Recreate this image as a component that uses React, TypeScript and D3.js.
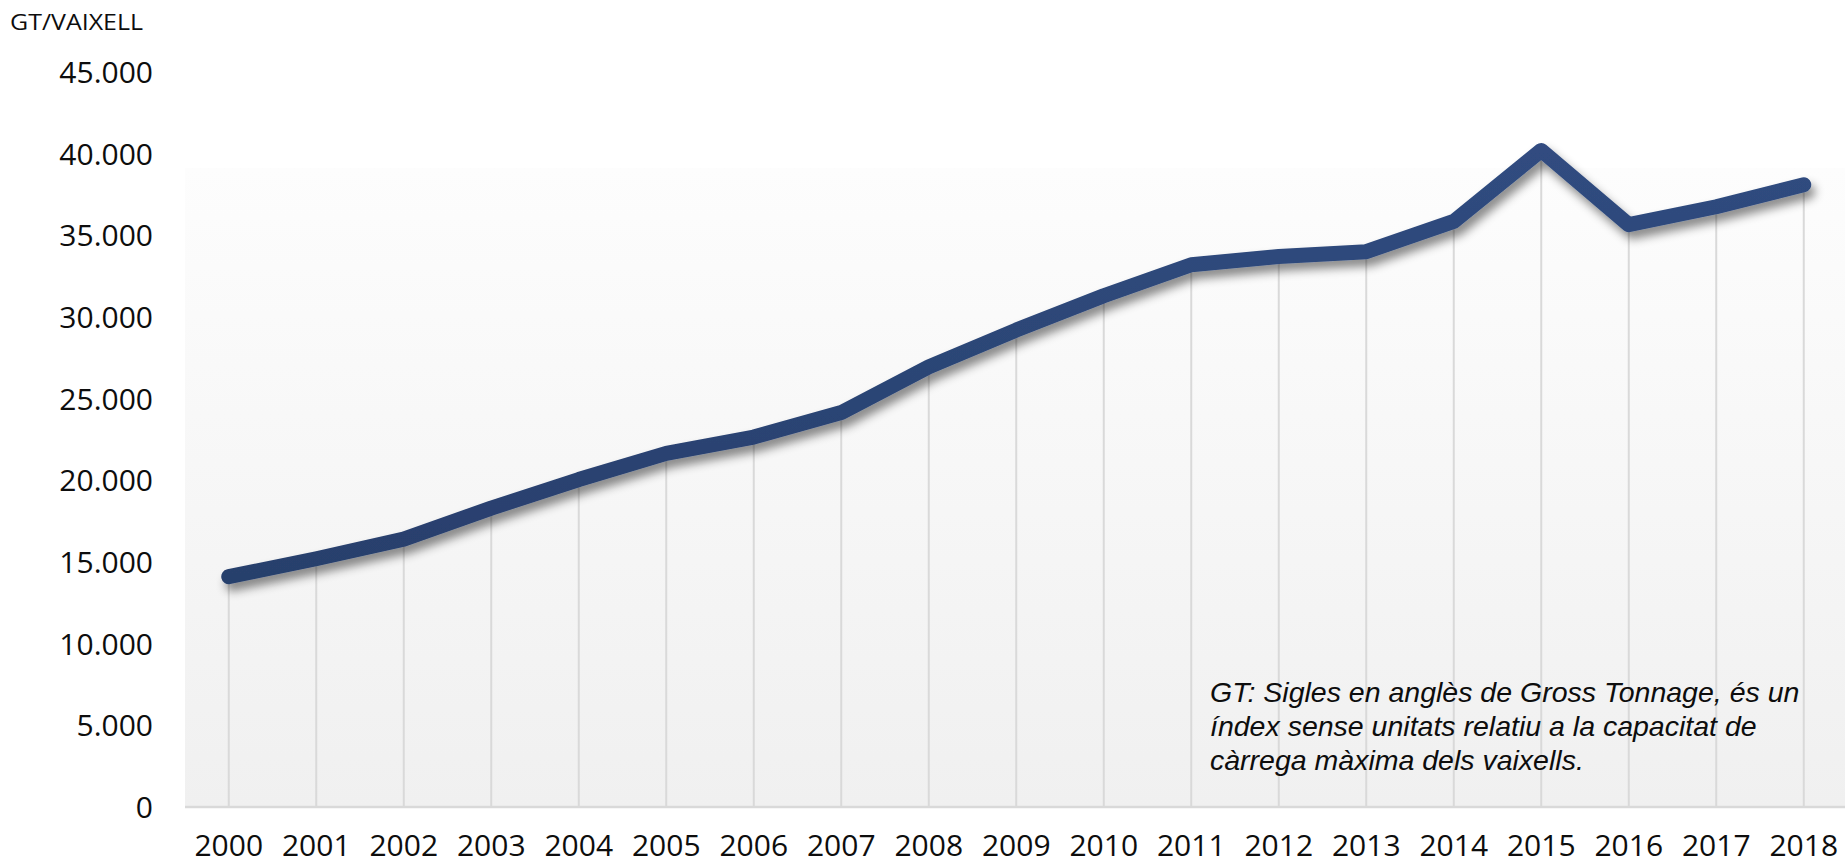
import React from 'react'
import * as d3 from 'd3'

const W = 1845, H = 864

const years = ['2000', '2001', '2002', '2003', '2004', '2005', '2006', '2007', '2008', '2009',
  '2010', '2011', '2012', '2013', '2014', '2015', '2016', '2017', '2018']
const gtPerShip = [14100, 15200, 16400, 18300, 20050, 21650, 22650, 24150, 26950, 29200,
  31300, 33200, 33700, 34000, 35850, 40200, 35650, 36750, 38100]
const yTicks = [0, 5000, 10000, 15000, 20000, 25000, 30000, 35000, 40000, 45000]
const noteLines = [
  'GT: Sigles en anglès de Gross Tonnage, és un',
  'índex sense unitats relatiu a la capacitat de',
  'càrrega màxima dels vaixells.',
]

const fmt = (v: number) => d3.format(',')(v).replace(/,/g, '.')

export default function App() {
  const x = d3.scaleBand<string>().domain(years).range([185, 185 + 19 * 87.5])
  const y = d3.scaleLinear().domain([0, 45000]).range([807, 72])
  const cx = (yr: string) => (x(yr) as number) + x.bandwidth() / 2

  const pts = years.map((yr, i) => ({ yr, v: gtPerShip[i] }))
  const line = d3.line<{ yr: string; v: number }>().x(d => cx(d.yr)).y(d => y(d.v))

  return (
    <svg width={W} height={H} viewBox={`0 0 ${W} ${H}`}
      style={{ position: 'absolute', left: 0, top: 0, background: '#fff' }}>
      <defs>
        <linearGradient id="plotBg" x1="0" y1="0" x2="0" y2="1">
          <stop offset="0%" stopColor="#fdfdfd" />
          <stop offset="100%" stopColor="#f0f0f0" />
        </linearGradient>
        <linearGradient id="lineCol" x1="0" y1="0" x2="0" y2="1">
          <stop offset="0%" stopColor="#304c80" />
          <stop offset="100%" stopColor="#283f6c" />
        </linearGradient>
        <filter id="shadow" filterUnits="userSpaceOnUse" x="0" y="0" width={W} height={H}>
          <feDropShadow dx="4" dy="7" stdDeviation="5" floodColor="#000" floodOpacity="0.45" />
        </filter>
      </defs>

      {/* plot area */}
      <rect x={185} y={168} width={W - 185} height={y(0) - 168} fill="url(#plotBg)" />

      {/* drop lines */}
      {pts.map(p => (
        <line key={p.yr} x1={cx(p.yr)} x2={cx(p.yr)} y1={y(p.v)} y2={y(0)}
          stroke="#d9d9d9" strokeWidth={2} />
      ))}

      {/* baseline */}
      <line x1={185} x2={W} y1={y(0)} y2={y(0)} stroke="#d9d9d9" strokeWidth={2.5} />

      {/* y axis labels */}
      {yTicks.map(t => (
        <text key={t} x={153} y={y(t) + 11} textAnchor="end"
          fontFamily="'Open Sans', sans-serif" fontSize={30} fill="#0d0d0d">{fmt(t)}</text>
      ))}

      {/* x axis labels */}
      {years.map(yr => (
        <text key={yr} x={cx(yr)} y={856} textAnchor="middle"
          fontFamily="'Open Sans', sans-serif" fontSize={30} fill="#0d0d0d">{yr}</text>
      ))}

      <text x={10} y={30} fontFamily="'Open Sans', sans-serif" fontSize={22} fill="#0d0d0d"
        textLength={133} lengthAdjust="spacingAndGlyphs">GT/VAIXELL</text>

      {/* series */}
      <path d={line(pts) as string} fill="none" stroke="url(#lineCol)" strokeWidth={15}
        strokeLinecap="round" strokeLinejoin="round" filter="url(#shadow)" />

      {/* note */}
      <text fontFamily="'Liberation Sans', Arial, sans-serif" fontStyle="italic" fontSize={28.5} fill="#0d0d0d">
        {noteLines.map((l, i) => (
          <tspan key={i} x={1210} y={702 + i * 34}>{l}</tspan>
        ))}
      </text>
    </svg>
  )
}
